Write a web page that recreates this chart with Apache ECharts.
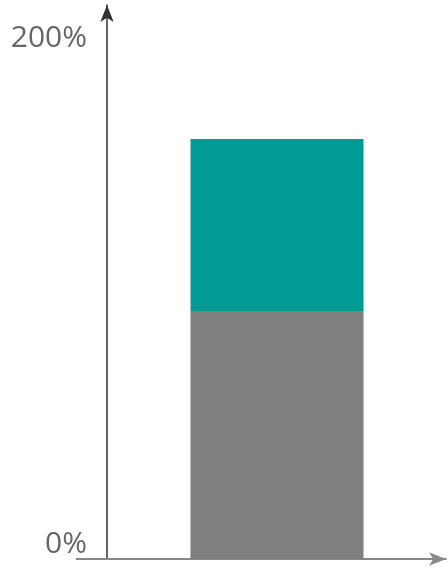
<!DOCTYPE html>
<html>
<head>
<meta charset="utf-8">
<script src="https://cdn.jsdelivr.net/npm/echarts@6/dist/echarts.min.js"></script>
<style>
  html, body { margin: 0; padding: 0; background: #fff; }
  #chart { width: 448px; height: 569px; }
</style>
</head>
<body>
<div id="chart"></div>
<script>
// 数据
let categories = ['Total'];
let baseValues = [98];   // 灰色部分
let extraValues = [68];  // 青色部分
let yTicks = [0, 200];

let chartDOM = document.getElementById('chart');
let chart = echarts.init(chartDOM);

let opts = {
    animation: false,
    grid: {
        left: 108,
        right: 2,
        top: 5,
        bottom: 10
    },
    xAxis: {
        type: 'category',
        data: categories,
        axisLine: {
            show: true,
            symbol: ['none', 'arrow'],
            symbolSize: [10, 17],
            lineStyle: { color: '#888', width: 2 }
        },
        axisTick: { show: false },
        axisLabel: { show: false }
    },
    yAxis: {
        type: 'value',
        min: yTicks[0],
        max: 219,
        interval: yTicks[1],
        offset: 1,
        axisLine: {
            show: true,
            symbol: ['none', 'arrow'],
            symbolSize: [10, 17],
            lineStyle: { color: '#333', width: 1.5 }
        },
        axisTick: { show: false },
        splitLine: { show: false },
        axisLabel: {
            show: true,
            margin: 20,
            showMaxLabel: false,
            verticalAlign: 'bottom',
            color: '#666',
            fontFamily: 'Open Sans',
            fontSize: 30,
            formatter: function (v) {
                return yTicks.indexOf(v) >= 0 ? v + '%' : '';
            }
        }
    },
    // x轴左侧延伸的短线
    graphic: [{
        type: 'line',
        shape: { x1: 76, y1: 559, x2: 109, y2: 559 },
        style: { stroke: '#888', lineWidth: 2 },
        z: 1
    }],
    series: [
        {
            type: 'bar',
            stack: 'total',
            barWidth: 173,
            data: baseValues,
            itemStyle: { color: '#7f7f7f' }
        },
        {
            type: 'bar',
            stack: 'total',
            barWidth: 173,
            data: extraValues,
            itemStyle: { color: '#009b95' }
        }
    ]
};
chart.setOption(opts);
</script>
</body>
</html>
